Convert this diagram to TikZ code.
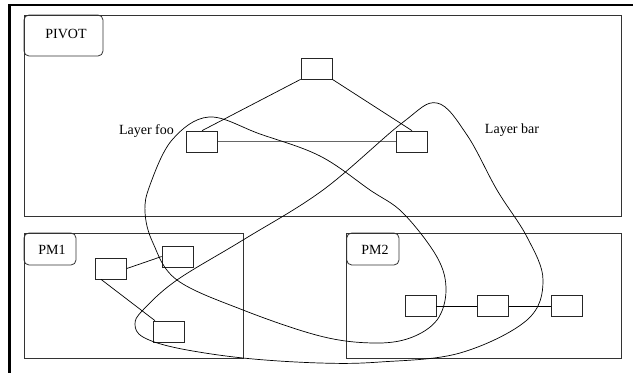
\documentclass[tikz,border=0pt]{standalone}
\usepackage{fontspec}
\setmainfont{Liberation Serif}
\begin{document}
\begin{tikzpicture}[x=1pt,y=-1pt,
  box/.style={draw=black!80, line width=0.8pt},
  lbl/.style={draw=black!80, line width=0.8pt, rounded corners=5pt},
  nd/.style={draw=black!85, line width=0.7pt, minimum width=31pt, minimum height=21pt, inner sep=0pt},
  edge/.style={line width=0.7pt},
  loop/.style={line width=0.7pt},
  txt/.style={font=\fontsize{14}{16}\selectfont, inner sep=0pt}]
\useasboundingbox (0,0) rectangle (633,373);
% outer frame
\draw[line width=2pt] (8,5) -- (633,5);
\draw[line width=3pt] (9.5,4) -- (9.5,373);
% containers
\draw[box] (24,15) rectangle (621.7,216.5);
\draw[lbl] (24,15) rectangle (103,56);
\node[txt] (pivot) at (66,34) {PIVOT};
\draw[box] (24,233) rectangle (243,358);
\draw[lbl] (24,233) rectangle (76,265);
\node[txt] (pm1) at (52,250) {PM1};
\draw[box] (346.7,233) rectangle (621.7,358);
\draw[lbl] (346.7,233) rectangle (399,265);
\node[txt] (pm2) at (375,250) {PM2};
% pivot nodes
\node[nd] (top) at (316.5,68.5) {};
\node[nd] (foo) at (202,141.5) {};
\node[nd] (bar) at (412,141.5) {};
\node[txt] (lfoo) at (146.5,131) {Layer foo};
\node[txt] (lbar) at (512,130) {Layer bar};
\draw[edge] (top.south west) -- (foo.north);
\draw[edge] (top.south east) -- (bar.north);
\draw[edge,draw=black!60] (foo.east) -- (bar.west);
% pm1 nodes
\node[nd] (a) at (111,268.5) {};
\node[nd] (b) at (177.5,256.5) {};
\node[nd] (c) at (169,331.5) {};
\draw[edge] (a.east) -- (b.west);
\draw[edge] ([xshift=-10pt]a.south) -- ([xshift=-14pt]c.north);
% pm2 nodes
\node[nd] (d) at (420.5,306) {};
\node[nd] (e) at (493,306) {};
\node[nd] (f) at (566.5,306) {};
\draw[edge] (d) -- (e);
\draw[edge] (e) -- (f);
% loops
\draw[loop] plot[smooth cycle, tension=0.6] coordinates {
  (209,117) (260,134) (320,156) (370,190) (403,213) (437,257) (446,290)
  (437,320) (410,338) (373,343) (320,336) (243,310) (177,280) (153,243)
  (145,212) (150,185) (172,140)};
\draw[loop] plot[smooth cycle, tension=0.6] coordinates {
  (437,103) (467,135) (497,190) (527,237) (543,280) (527,320) (460,353)
  (380,362) (320,363) (243,358) (177,348) (143,337) (135,324) (143,310)
  (177,280) (243,240) (323,190) (402,123)};
\end{tikzpicture}
\end{document}
